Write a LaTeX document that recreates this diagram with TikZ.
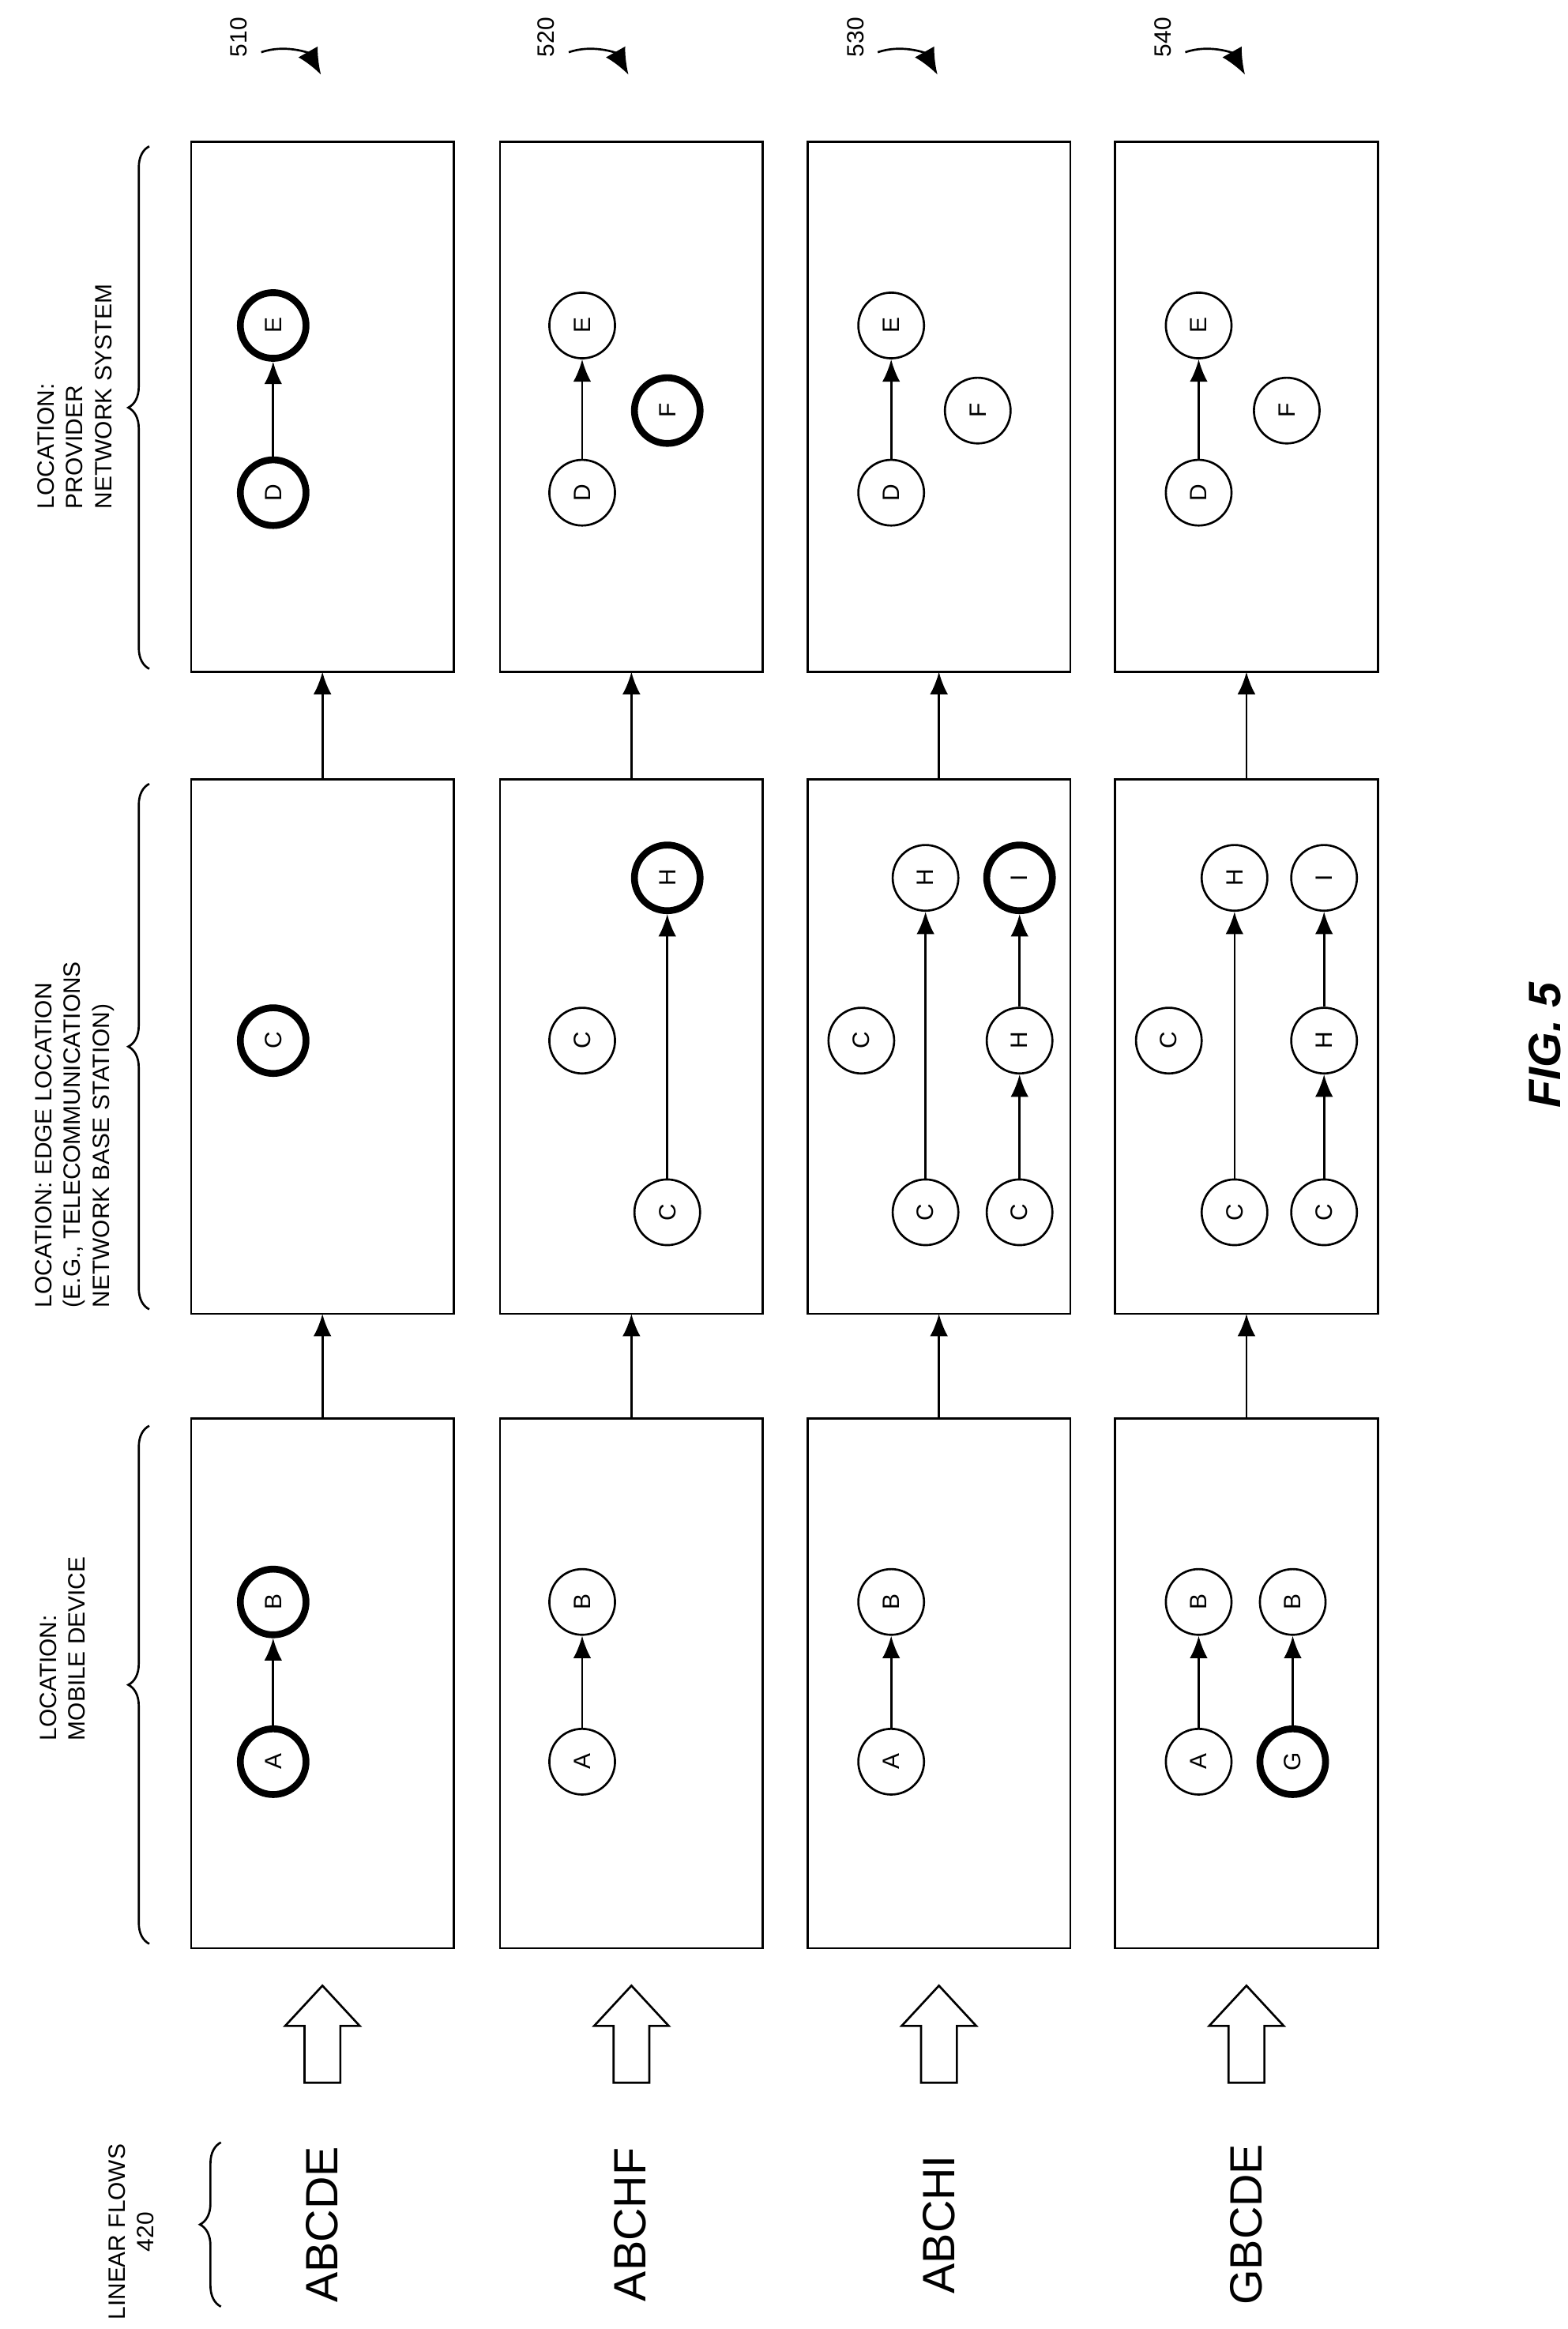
\documentclass[tikz,border=0pt]{standalone}
\usepackage{fontspec}
\setmainfont{Liberation Sans}
\usetikzlibrary{arrows.meta, decorations.pathreplacing}

\begin{document}
\begin{tikzpicture}[
    x=0.2mm, y=-0.2mm,
    box/.style={draw, line width=0.8pt},
    st/.style={circle, draw, line width=0.8pt, minimum size=8.8mm, inner sep=0pt, font=\small, rotate=90},
    hot/.style={st, line width=2.6pt},
    flow/.style={-{Latex[length=3mm, width=2.4mm]}, line width=0.8pt},
    lbl/.style={rotate=90, font=\small, align=left, anchor=west},
    brc/.style={decorate, decoration={brace, amplitude=8pt}, line width=0.8pt}
]
\useasboundingbox (0,0) rectangle (1050,1560);

% Boxes, row by row
\foreach \r/\x in {510/128, 520/335, 530/541, 540/747} {
  \draw[box] (\x,950) rectangle ++(176,355);
  \draw[box] (\x,522) rectangle ++(176,358);
  \draw[box] (\x,95) rectangle ++(176,355);
  \coordinate (m\r) at (\x+88,950);
  \coordinate (e\r b) at (\x+88,880);
  \coordinate (e\r t) at (\x+88,522);
  \coordinate (p\r) at (\x+88,450);
  \draw[flow] (m\r) -- (e\r b);
  \draw[flow] (e\r t) -- (p\r);
  % open input arrow
  \draw[line width=0.8pt] (\x+76,1395) -- (\x+76,1357) -- (\x+63,1357) -- (\x+88,1330)
    -- (\x+113,1357) -- (\x+100,1357) -- (\x+100,1395) -- cycle;
}

% 510
\node[hot] (a1) at (183,1180) {A};
\node[hot] (b1) at (183,1073) {B};
\node[hot] (c1) at (183,697) {C};
\node[hot] (d1) at (183,330) {D};
\node[hot] (e1) at (183,218) {E};
\draw[flow] (a1) -- (b1);
\draw[flow] (d1) -- (e1);

% 520
\node[st] (a2) at (390,1180) {A};
\node[st] (b2) at (390,1073) {B};
\node[st] (c2) at (390,697) {C};
\node[st] (c2b) at (447,812) {C};
\node[hot] (h2) at (447,588) {H};
\node[st] (d2) at (390,330) {D};
\node[st] (e2) at (390,218) {E};
\node[hot] (f2) at (447,275) {F};
\draw[flow] (a2) -- (b2);
\draw[flow] (c2b) -- (h2);
\draw[flow] (d2) -- (e2);

% 530
\node[st] (a3) at (597,1180) {A};
\node[st] (b3) at (597,1073) {B};
\node[st] (c3) at (577,697) {C};
\node[st] (c3b) at (620,812) {C};
\node[st] (h3) at (620,588) {H};
\node[st] (c3c) at (683,812) {C};
\node[st] (h3c) at (683,697) {H};
\node[hot] (i3) at (683,588) {I};
\node[st] (d3) at (597,330) {D};
\node[st] (e3) at (597,218) {E};
\node[st] (f3) at (655,275) {F};
\draw[flow] (a3) -- (b3);
\draw[flow] (c3b) -- (h3);
\draw[flow] (c3c) -- (h3c);
\draw[flow] (h3c) -- (i3);
\draw[flow] (d3) -- (e3);

% 540
\node[st] (a4) at (803,1180) {A};
\node[st] (b4) at (803,1073) {B};
\node[hot] (g4) at (866,1180) {G};
\node[st] (b4b) at (866,1073) {B};
\node[st] (c4) at (783,697) {C};
\node[st] (c4b) at (827,812) {C};
\node[st] (h4) at (827,588) {H};
\node[st] (c4c) at (887,812) {C};
\node[st] (h4c) at (887,697) {H};
\node[st] (i4) at (887,588) {I};
\node[st] (d4) at (803,330) {D};
\node[st] (e4) at (803,218) {E};
\node[st] (f4) at (862,275) {F};
\draw[flow] (a4) -- (b4);
\draw[flow] (g4) -- (b4b);
\draw[flow] (c4b) -- (h4);
\draw[flow] (c4c) -- (h4c);
\draw[flow] (h4c) -- (i4);
\draw[flow] (d4) -- (e4);

% Linear flows
\foreach \t/\x in {ABCDE/216, ABCHF/422, ABCHI/629, GBCDE/835}
  \node[rotate=90, font=\LARGE] (lf\t) at (\x,1490) {\t};
\node[rotate=90, font=\small, align=center] (lin) at (88,1495) {LINEAR FLOWS\\420};
\draw[brc] (148,1545) -- (148,1435);

% Locations
\draw[brc] (100,1302) -- (100,955);
\draw[brc] (100,877) -- (100,525);
\draw[brc] (100,448) -- (100,98);
\node[lbl] (locm) at (42,1172) {LOCATION:\\MOBILE DEVICE};
\node[lbl] (loce) at (50,882) {LOCATION: EDGE LOCATION\\(E.G., TELECOMMUNICATIONS\\NETWORK BASE STATION)};
\node[lbl] (locp) at (50,347) {LOCATION:\\PROVIDER\\NETWORK SYSTEM};

% Reference numerals
\foreach \r/\x in {510/160, 520/366, 530/573, 540/779} {
  \node[rotate=90, font=\small] (n\r) at (\x,25) {\r};
  \coordinate (s\r) at (\x+15,35);
  \coordinate (t\r) at (\x+55,50);
  \draw[-{Latex[length=3.5mm, width=3mm]}, line width=0.8pt] (s\r) to[bend left=40] (t\r);
}

\node[rotate=90, font=\LARGE\bfseries\itshape] (fig) at (1035,700) {FIG. 5};
\end{tikzpicture}
\end{document}
